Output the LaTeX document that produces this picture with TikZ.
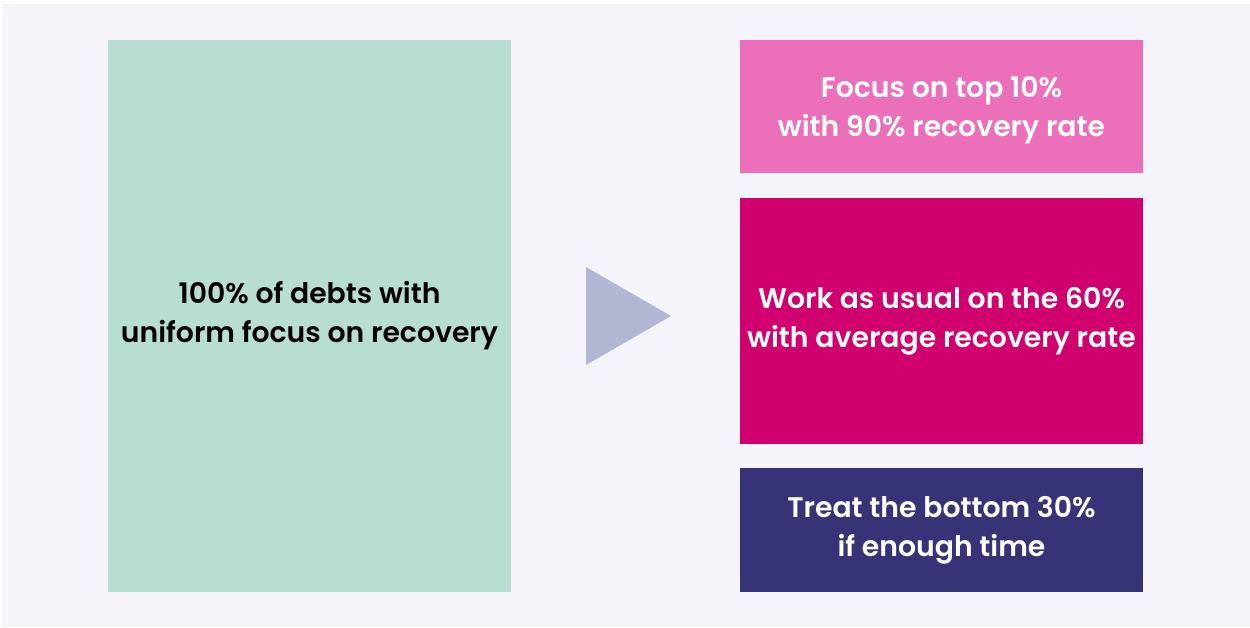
\documentclass[tikz,border=0pt]{standalone}
\usepackage{fontspec}
\setmainfont{Poppins}[BoldFont={Poppins SemiBold}]
\usepackage{tikz}
\usetikzlibrary{positioning}

\definecolor{bgcol}{HTML}{F5F4FA}
\definecolor{mint}{HTML}{B8DDD3}
\definecolor{rosa}{HTML}{EC6FBA}
\definecolor{berry}{HTML}{D0006F}
\definecolor{navy}{HTML}{363377}
\definecolor{arrowcol}{HTML}{B1B6D3}

\begin{document}
\begin{tikzpicture}[x=1pt,y=-1pt]
    \tikzstyle{every node}=[font=\fontsize{28.3}{39}\selectfont\bfseries, align=center, inner sep=0pt]
    \tikzstyle{seg}=[rectangle, minimum width=403pt, text=white]
    \useasboundingbox (0,0) rectangle (1250,627);
    \fill[white] (0,0) rectangle (1250,627);
    \fill[bgcol] (2,4) rectangle (1250,627);

	\node[rectangle, fill=mint, minimum width=403pt, minimum height=552pt] (all) at (309.5, 316) {100\% of debts with\\ uniform focus on recovery};

	\node[seg, fill=rosa, minimum height=133pt, text depth=0pt] (top) at (941.5, 106.5) {Focus on top 10\%\\ with 90\% recovery rate};
	\node[seg, fill=berry, minimum height=246pt] (mid) at (941.5, 321) {Work as usual on the 60\%\\ with average recovery rate};
	\node[seg, fill=navy, minimum height=124pt] (low) at (941.5, 530) {Treat the bottom 30\%\\ if enough time};

	% arrow between the two sides
	\fill[arrowcol] (586, 267) -- (671, 316) -- (586, 365) -- cycle;
\end{tikzpicture}
\end{document}
